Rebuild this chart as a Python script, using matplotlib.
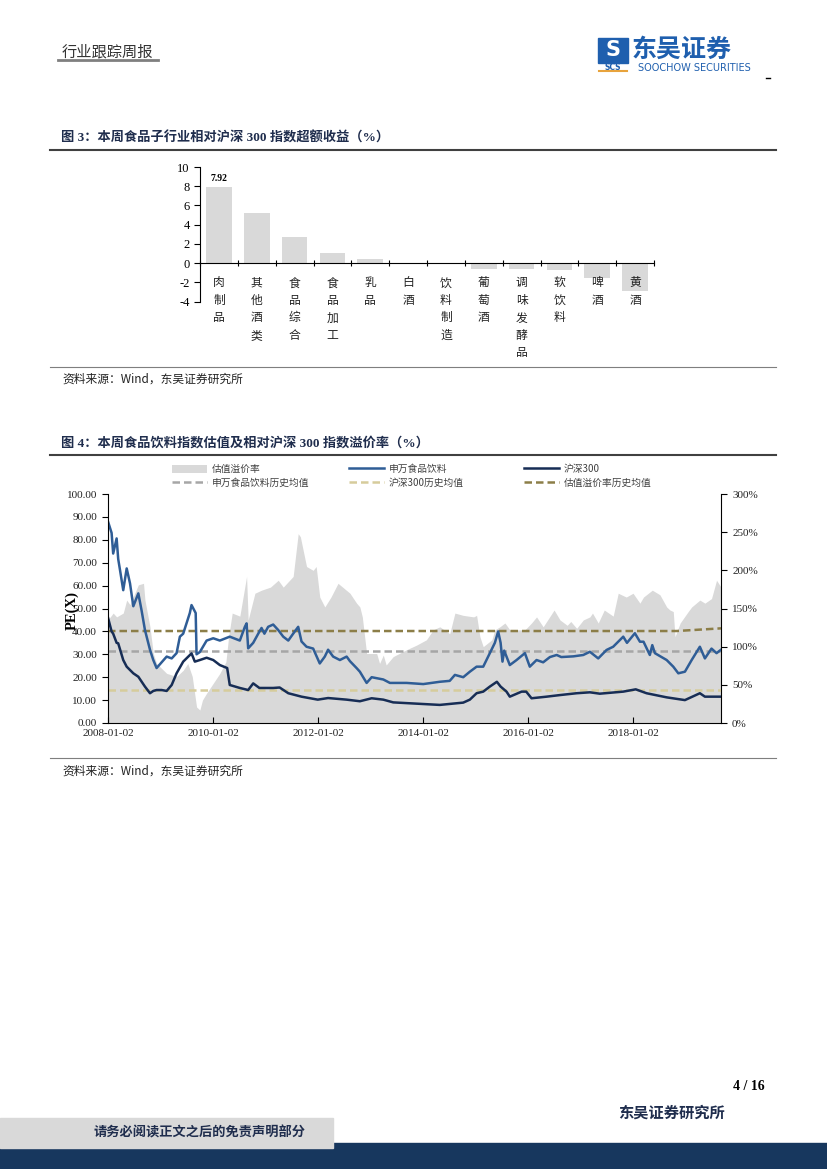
import matplotlib
matplotlib.use('Agg')
import matplotlib.pyplot as plt
from matplotlib.lines import Line2D
from matplotlib.patches import Rectangle, Patch
import numpy as np
import pandas as pd

CJK = 'Noto Sans CJK SC'
SERIF = ['Liberation Serif', CJK]
plt.rcParams['font.family'] = [CJK, 'DejaVu Sans']
plt.rcParams['axes.unicode_minus'] = False

W, H = 827, 1169

# 图3: 子行业相对沪深300超额收益 (%)
sub_names = ['肉制品', '其他酒类', '食品综合', '食品加工', '乳品', '白酒',
             '饮料制造', '葡萄酒', '调味发酵品', '软饮料', '啤酒', '黄酒']
sub_excess = [7.92, 5.26, 2.70, 1.09, 0.39, 0.03,
              -0.04, -0.63, -0.65, -0.74, -1.58, -2.84]

# 图4: 申万食品饮料 PE
fb_dates = ['2008-01-02', '2008-01-27', '2008-02-07', '2008-03-02', '2008-03-13', '2008-03-25',
            '2008-04-17', '2008-05-11', '2008-06-03', '2008-06-26', '2008-07-31', '2008-08-23',
            '2008-09-15', '2008-10-20', '2008-11-12', '2008-12-05', '2009-01-09', '2009-02-13',
            '2009-03-20', '2009-04-23', '2009-05-16', '2009-06-08', '2009-07-01', '2009-07-24',
            '2009-08-05', '2009-09-03', '2009-09-09', '2009-10-02', '2009-11-18', '2010-01-03',
            '2010-02-18', '2010-04-28', '2010-07-07', '2010-08-11', '2010-08-23', '2010-09-03',
            '2010-10-08', '2010-11-12', '2010-12-05', '2010-12-25', '2011-01-20', '2011-02-24',
            '2011-03-31', '2011-05-05', '2011-06-09', '2011-07-13', '2011-08-17', '2011-09-09',
            '2011-10-14', '2011-11-29', '2012-01-14', '2012-02-18', '2012-03-12', '2012-04-16',
            '2012-06-02', '2012-07-19', '2012-08-11', '2012-09-26', '2012-10-19', '2012-12-05',
            '2013-01-09', '2013-03-31', '2013-05-16', '2013-09-09', '2014-01-03', '2014-04-28',
            '2014-07-06', '2014-08-11', '2014-10-08', '2014-11-23', '2015-01-09', '2015-02-24',
            '2015-04-11', '2015-05-16', '2015-06-08', '2015-06-25', '2015-07-08', '2015-07-20',
            '2015-08-28', '2015-10-14', '2015-12-11', '2016-01-14', '2016-03-01', '2016-04-16',
            '2016-06-02', '2016-07-19', '2016-08-20', '2016-11-12', '2017-01-20', '2017-03-07',
            '2017-05-04', '2017-07-01', '2017-08-16', '2017-10-25', '2017-11-20', '2018-01-14',
            '2018-02-18', '2018-03-15', '2018-04-28', '2018-05-15', '2018-06-02', '2018-08-23',
            '2018-10-08', '2018-11-12', '2018-12-28', '2019-02-13', '2019-04-11', '2019-05-16',
            '2019-07-01', '2019-08-05', '2019-09-05']
fb_pe = [88.0, 83.0, 74.0, 80.6, 71.6, 67.0,
         58.0, 67.5, 61.0, 51.0, 56.6, 49.0,
         40.6, 32.0, 27.5, 24.0, 26.5, 29.0,
         28.2, 30.5, 37.7, 39.0, 43.5, 48.0,
         51.5, 48.0, 30.0, 31.0, 36.0, 37.0,
         36.0, 37.7, 36.0, 42.0, 43.5, 32.6,
         35.0, 39.0, 41.5, 39.0, 42.0, 43.0,
         40.6, 37.7, 36.0, 39.0, 42.0, 35.6,
         33.3, 32.5, 26.0, 29.0, 32.0, 29.0,
         27.5, 29.0, 27.0, 24.0, 22.4, 17.5,
         20.0, 19.0, 17.5, 17.5, 17.0, 18.0,
         18.4, 21.0, 20.0, 22.4, 24.6, 24.6,
         30.5, 35.0, 40.0, 35.0, 26.8, 31.6,
         25.3, 27.5, 30.5, 24.6, 27.5, 26.5,
         28.8, 29.7, 28.8, 29.1, 29.7, 31.1,
         28.2, 31.9, 33.3, 37.7, 35.0, 39.2,
         35.5, 35.5, 29.7, 34.0, 30.5, 27.5,
         24.6, 21.7, 22.4, 27.5, 33.3, 28.2,
         32.5, 30.5, 32.0]

# 图4: 沪深300 PE
hs_dates = ['2008-01-02', '2008-01-27', '2008-02-07', '2008-03-02', '2008-03-13', '2008-04-17',
            '2008-05-11', '2008-06-26', '2008-07-31', '2008-09-15', '2008-10-20', '2008-11-12',
            '2008-12-05', '2009-01-09', '2009-02-13', '2009-03-20', '2009-04-23', '2009-06-08',
            '2009-08-05', '2009-08-28', '2009-10-02', '2009-11-18', '2010-01-03', '2010-02-18',
            '2010-04-10', '2010-04-28', '2010-07-07', '2010-09-03', '2010-10-08', '2010-11-20',
            '2011-02-24', '2011-04-10', '2011-06-09', '2011-09-09', '2011-12-31', '2012-03-12',
            '2012-07-19', '2012-10-19', '2013-01-09', '2013-03-31', '2013-06-08', '2013-12-31',
            '2014-04-28', '2014-10-08', '2014-11-23', '2015-01-09', '2015-02-24', '2015-04-11',
            '2015-05-30', '2015-06-25', '2015-08-05', '2015-08-28', '2015-11-18', '2015-12-20',
            '2016-01-26', '2016-05-10', '2016-08-11', '2016-12-05', '2017-03-07', '2017-05-15',
            '2017-10-25', '2018-01-20', '2018-04-05', '2018-08-23', '2018-12-28', '2019-04-11',
            '2019-05-16', '2019-09-05']
hs_pe = [46.0, 40.0, 39.0, 35.0, 34.8, 27.5,
         24.6, 21.7, 20.2, 15.9, 13.0, 14.0,
         14.4, 14.4, 14.0, 16.6, 21.7, 26.8,
         30.4, 26.8, 27.5, 28.5, 27.5, 25.3,
         24.0, 16.6, 15.3, 14.4, 17.3, 15.3,
         15.3, 15.5, 13.0, 11.5, 10.2, 10.9,
         10.2, 9.5, 10.8, 10.2, 9.0, 8.3,
         7.9, 8.9, 10.2, 13.0, 13.7, 15.9,
         18.0, 15.9, 13.7, 11.5, 13.7, 13.7,
         10.8, 11.5, 12.2, 13.0, 13.4, 12.8,
         13.7, 14.7, 13.0, 11.2, 10.0, 13.0,
         11.5, 11.5]

# 图4: 估值溢价率 (%)
prem_dates = ['2008-01-02', '2008-02-07', '2008-03-02', '2008-04-17', '2008-05-11', '2008-06-03',
              '2008-07-31', '2008-09-05', '2008-09-15', '2008-10-20', '2008-11-12', '2008-12-05',
              '2009-02-13', '2009-04-23', '2009-06-08', '2009-07-10', '2009-08-10', '2009-09-09',
              '2009-10-02', '2009-10-20', '2009-11-18', '2010-01-03', '2010-02-18', '2010-04-01',
              '2010-04-20', '2010-05-15', '2010-07-07', '2010-08-23', '2010-09-03', '2010-10-20',
              '2010-12-05', '2011-02-05', '2011-03-31', '2011-05-05', '2011-07-13', '2011-08-17',
              '2011-09-01', '2011-10-14', '2011-11-29', '2011-12-20', '2012-01-14', '2012-02-18',
              '2012-04-01', '2012-05-20', '2012-08-11', '2012-09-26', '2012-10-19', '2012-11-05',
              '2012-12-05', '2013-02-13', '2013-03-05', '2013-03-31', '2013-04-20', '2013-06-08',
              '2013-09-09', '2013-11-17', '2014-01-25', '2014-03-13', '2014-04-28', '2014-07-06',
              '2014-08-11', '2014-10-08', '2014-12-20', '2015-01-09', '2015-02-01', '2015-02-24',
              '2015-04-25', '2015-05-16', '2015-06-20', '2015-07-25', '2015-08-28', '2015-12-11',
              '2016-01-26', '2016-03-01', '2016-04-16', '2016-07-01', '2016-08-11', '2016-09-30',
              '2016-10-25', '2016-12-05', '2017-01-20', '2017-03-07', '2017-03-25', '2017-05-04',
              '2017-06-15', '2017-08-16', '2017-09-20', '2017-11-15', '2018-01-01', '2018-02-18',
              '2018-03-15', '2018-05-15', '2018-07-07', '2018-08-23', '2018-09-15', '2018-10-08',
              '2018-10-20', '2018-11-25', '2019-01-20', '2019-02-13', '2019-04-11', '2019-05-16',
              '2019-07-01', '2019-08-05', '2019-09-05']
prem_pct = [135, 144, 139, 144, 161, 155,
            181, 183, 161, 126, 91, 78,
            65, 61, 69, 78, 61, 21,
            17, 30, 39, 52, 65, 80,
            113, 144, 140, 192, 135, 170,
            174, 178, 187, 178, 192, 248,
            244, 205, 200, 205, 165, 152,
            165, 183, 170, 157, 152, 139,
            91, 91, 78, 89, 76, 87,
            96, 102, 109, 122, 126, 117,
            144, 141, 139, 141, 113, 100,
            109, 122, 126, 131, 122, 122,
            131, 139, 126, 148, 135, 128,
            133, 124, 135, 139, 144, 131,
            148, 140, 170, 165, 170, 157,
            165, 174, 168, 152, 148, 146,
            113, 131, 146, 152, 161, 157,
            163, 187, 178]

# 历史均值
mean_dates = ['2008-01-02', '2019-09-05']
fb_mean = [31.4, 31.4]
hs_mean = [14.4, 14.4]
prem_mean_dates = ['2008-01-02', '2018-11-01', '2019-09-05']
prem_mean = [120.5, 120.5, 124.0]


def fx(x):
    return x / W


def fy(y):
    return 1 - y / H


def hline(fig, x0, x1, y, color, lw):
    fig.add_artist(Line2D([fx(x0), fx(x1)], [fy(y), fy(y)], color=color, lw=lw,
                          transform=fig.transFigure))


fig = plt.figure(figsize=(W / 100, H / 100), dpi=100)

# ---- page header ----
fig.text(fx(62), fy(52), '行业跟踪周报', fontsize=11, color='#333333', va='center')
hline(fig, 58, 158, 60, '#7f7f7f', 2.0)
fig.add_artist(Rectangle((fx(598), fy(63)), 30 / W, 25 / H, color='#1f5fae',
                         transform=fig.transFigure))
fig.text(fx(613), fy(50), 'S', fontsize=15, fontweight='bold', color='white',
         ha='center', va='center', family='DejaVu Sans')
fig.text(fx(613), fy(67), 'SCS', fontsize=5.5, fontweight='bold', color='#1f5fae',
         ha='center', va='center', family='DejaVu Sans')
hline(fig, 599, 627, 71, '#e8a33c', 1.5)
fig.text(fx(632), fy(50), '东吴证券', fontsize=18, fontweight='bold', color='#1f5fae',
         va='center')
fig.text(fx(638), fy(68), 'SOOCHOW SECURITIES', fontsize=7, color='#1f5fae', va='center',
         family='DejaVu Sans')
hline(fig, 766, 770, 78, '#000000', 1.0)

# ---- 图3 ----
fig.text(fx(61), fy(138), '图 3：本周食品子行业相对沪深 300 指数超额收益（%）', fontsize=9.5,
         fontweight='bold', color='#1f2d4d', va='center', family=SERIF)
hline(fig, 50, 776, 150, '#404040', 1.5)

ax1 = fig.add_axes([fx(200), fy(301.7), 454 / W, 134.7 / H])
xpos = np.arange(len(sub_names))
ax1.bar(xpos, sub_excess, width=0.68, color='#d9d9d9', zorder=1)
ax1.set_xlim(-0.5, len(sub_names) - 0.5)
ax1.set_ylim(-4, 10)
ax1.set_yticks(range(-4, 11, 2))
ax1.set_xticks(np.arange(-0.5, len(sub_names), 1))
ax1.set_xticklabels([])
for s in ['top', 'right']:
    ax1.spines[s].set_visible(False)
ax1.spines['bottom'].set_position(('data', 0))
ax1.spines['bottom'].set_linewidth(0.8)
ax1.spines['left'].set_linewidth(0.8)
ax1.tick_params(axis='x', direction='inout', length=5, width=0.8)
ax1.tick_params(axis='y', direction='out', length=4, width=0.8, labelsize=9)
for lab in ax1.get_yticklabels():
    lab.set_family(SERIF)
ax1.patch.set_visible(False)
for i, name in enumerate(sub_names):
    ax1.annotate('\n'.join(name), (i, 0), xytext=(0, -9.5), textcoords='offset points',
                 ha='center', va='top', fontsize=8.5, linespacing=1.45, color='#222222')
ax1.annotate(f'{sub_excess[0]:.2f}', (0, sub_excess[0]), xytext=(0, 3),
             textcoords='offset points', ha='center', va='bottom', fontsize=7,
             fontweight='bold', family=SERIF)

hline(fig, 50, 776, 367, '#7f7f7f', 0.8)
fig.text(fx(62), fy(379), '资料来源：Wind，东吴证券研究所', fontsize=8.5, va='center',
         color='#222222')

# ---- 图4 ----
fig.text(fx(61), fy(443), '图 4：本周食品饮料指数估值及相对沪深 300 指数溢价率（%）', fontsize=9.5,
         fontweight='bold', color='#1f2d4d', va='center', family=SERIF)
hline(fig, 50, 776, 455, '#404040', 1.5)

ax = fig.add_axes([fx(108), fy(723), 613 / W, 229 / H])
ax2 = ax.twinx()
fb_x = pd.to_datetime(fb_dates)
hs_x = pd.to_datetime(hs_dates)
prem_x = pd.to_datetime(prem_dates)
mean_x = pd.to_datetime(mean_dates)

c_prem = '#d9d9d9'
c_fb = '#2f5d96'
c_hs = '#172d55'
c_fbm = '#a6a6a6'
c_hsm = '#d6cc9c'
c_pm = '#8c7e48'

ax2.fill_between(prem_x, prem_pct, 0, color=c_prem, lw=0)
ax2.plot(pd.to_datetime(prem_mean_dates), prem_mean, color=c_pm, lw=1.8, dashes=(3, 1.6))
ax.plot(mean_x, fb_mean, color=c_fbm, lw=1.8, dashes=(3, 1.6))
ax.plot(mean_x, hs_mean, color=c_hsm, lw=1.8, dashes=(3, 1.6))
ax.plot(fb_x, fb_pe, color=c_fb, lw=1.8)
ax.plot(hs_x, hs_pe, color=c_hs, lw=1.8)
ax.set_zorder(ax2.get_zorder() + 1)
ax.patch.set_visible(False)

ax.set_xlim(pd.Timestamp('2008-01-02'), pd.Timestamp('2019-09-05'))
ax.set_ylim(0, 100)
ax2.set_ylim(0, 300)
ax.set_yticks(range(0, 101, 10))
ax.set_yticklabels([f'{v:.2f}' for v in range(0, 101, 10)])
ax2.set_yticks(range(0, 301, 50))
ax2.set_yticklabels([f'{v}%' for v in range(0, 301, 50)])
xt = pd.to_datetime(['2008-01-02', '2010-01-02', '2012-01-02', '2014-01-02',
                     '2016-01-02', '2018-01-02'])
ax.set_xticks(xt)
ax.set_xticklabels([d.strftime('%Y-%m-%d') for d in xt])
for a in (ax, ax2):
    a.spines['top'].set_visible(False)
    for s in ['left', 'right', 'bottom']:
        a.spines[s].set_linewidth(0.8)
ax.spines['right'].set_visible(False)
ax2.spines['left'].set_visible(False)
ax2.spines['bottom'].set_visible(False)
ax.tick_params(axis='y', direction='out', length=4, width=0.8, labelsize=8, pad=4)
ax2.tick_params(axis='y', direction='out', length=4, width=0.8, labelsize=8, pad=4)
ax.tick_params(axis='x', direction='in', length=4, width=0.8, labelsize=8, pad=4)
for lab in ax.get_xticklabels() + ax.get_yticklabels() + ax2.get_yticklabels():
    lab.set_family(SERIF)
    lab.set_color('#222222')

fig.text(fx(72), fy(610), 'PE(X)', rotation=90, fontsize=10.5, fontweight='bold',
         ha='center', va='center', family=SERIF)

legend_cols = [
    (172, [Patch(facecolor=c_prem, edgecolor='none'),
           Line2D([], [], color=c_fbm, lw=1.8, dashes=(3, 1.6))],
     ['估值溢价率', '申万食品饮料历史均值']),
    (349, [Line2D([], [], color=c_fb, lw=1.8),
           Line2D([], [], color=c_hsm, lw=1.8, dashes=(3, 1.6))],
     ['申万食品饮料', '沪深300历史均值']),
    (524, [Line2D([], [], color=c_hs, lw=1.8),
           Line2D([], [], color=c_pm, lw=1.8, dashes=(3, 1.6))],
     ['沪深300', '估值溢价率历史均值']),
]
for xl, handles, labels in legend_cols:
    fig.legend(handles, labels, loc='upper left', bbox_to_anchor=(fx(xl), fy(464)),
               bbox_transform=fig.transFigure, frameon=False, fontsize=7,
               handlelength=3.6, handleheight=0.9, labelspacing=0.35, borderpad=0,
               borderaxespad=0, handletextpad=0.5, labelcolor='#404040')

hline(fig, 50, 776, 758, '#7f7f7f', 0.8)
fig.text(fx(62), fy(771), '资料来源：Wind，东吴证券研究所', fontsize=8.5, va='center',
         color='#222222')

# ---- page footer ----
fig.text(fx(765), fy(1086), '4 / 16', fontsize=10, fontweight='bold', ha='right',
         va='center', family=SERIF)
fig.text(fx(725), fy(1113), '东吴证券研究所', fontsize=11, fontweight='bold', ha='right',
         va='center', color='#1f2d4d')
fig.add_artist(Rectangle((0, 0), 1, fy(1143), color='#17375e', transform=fig.transFigure))
fig.add_artist(Rectangle((0, fy(1148)), fx(333), 30 / H, color='#d9d9d9',
                         transform=fig.transFigure))
fig.text(fx(200), fy(1133), '请务必阅读正文之后的免责声明部分', fontsize=9.5, fontweight='bold',
         ha='center', va='center', color='#1f2d4d')

fig.savefig('out.png', dpi=100)
